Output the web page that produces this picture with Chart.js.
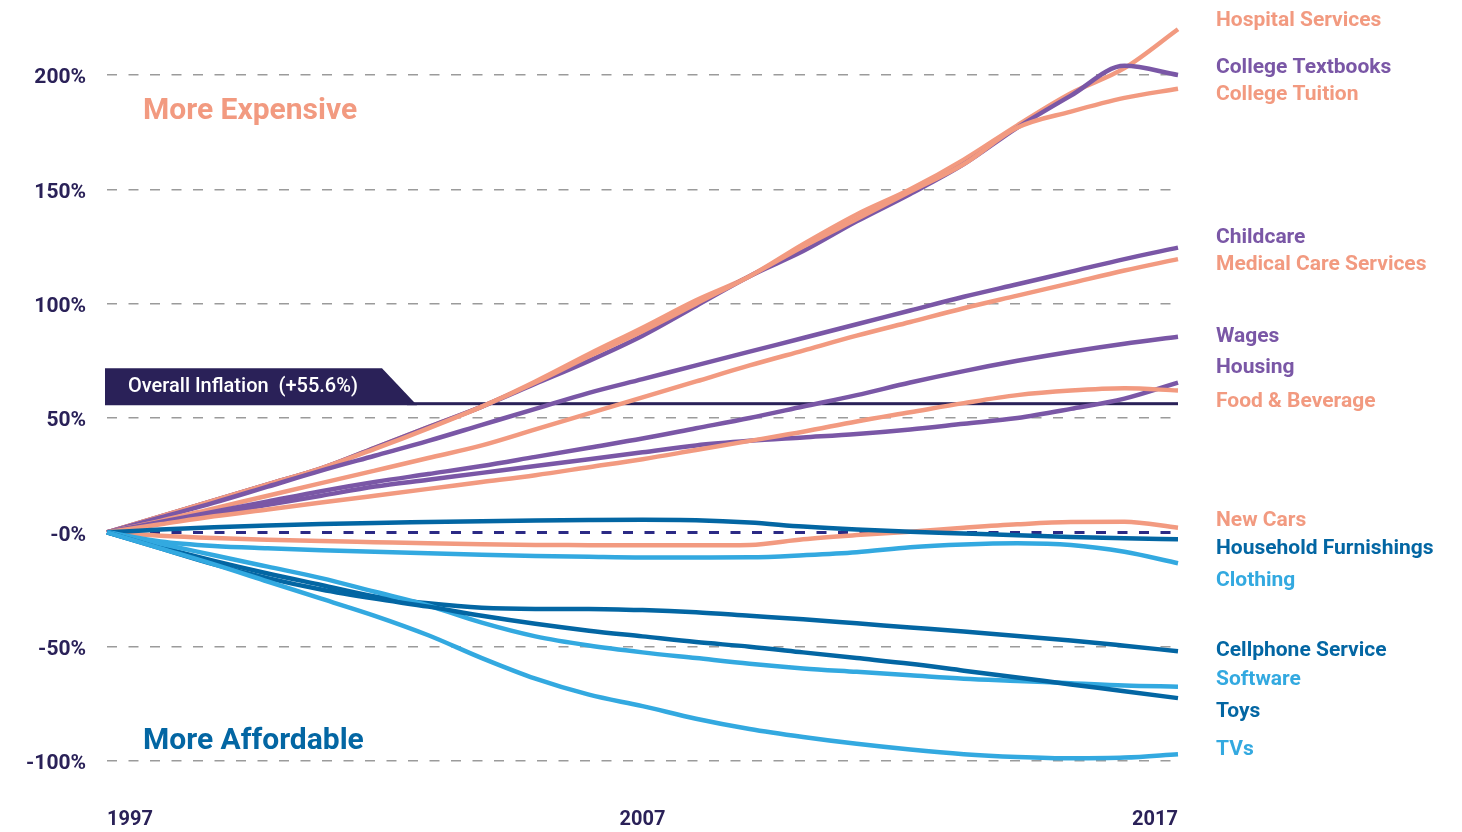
<!DOCTYPE html>
<html>
<head>
<meta charset="utf-8">
<title>Price changes 1997-2017</title>
<script src="https://cdn.jsdelivr.net/npm/chart.js@4.4.0/dist/chart.umd.min.js"></script>
<style>
  html, body { margin: 0; padding: 0; background: #fff; }
  #wrap { width: 1462px; height: 832px; position: relative; }
</style>
</head>
<body>
<div id="wrap"><canvas id="chart"></canvas></div>
<script>
"use strict"

const years = ["1997", "1998", "1999", "2000", "2001", "2002", "2003", "2004", "2005", "2006", "2007",
  "2008", "2009", "2010", "2011", "2012", "2013", "2014", "2015", "2016", "2017"]
const shownYears = ["1997", "2007", "2017"]
const overallInflation = 55.6

// percent change since 1997
const hospitalServices = [0, 7, 14, 21, 28, 37, 46, 55, 66, 78, 89.5, 101.5, 112, 126, 139, 150, 163, 178, 192, 203, 220]
const collegeTextbooks = [0, 7, 14, 21, 28, 37, 46, 55, 65, 75, 86, 99, 112, 123, 136, 148, 161, 177, 191, 204, 200]
const collegeTuition = [0, 7, 14, 21, 28, 36.5, 45.5, 55, 65.5, 77, 88, 100, 112, 125, 137, 149, 161, 177, 184, 190, 194]
const childcare = [0, 6.5, 13, 20, 27, 33.5, 40, 47, 54, 61, 67, 73, 79, 85, 91, 97, 103, 108.5, 114, 119.5, 124.5]
const medicalCare = [0, 5, 10.5, 16, 21.5, 27, 32.5, 38, 45, 52, 59, 66, 73, 79.5, 86, 92, 98, 103.5, 109, 114.5, 119.5]
const wages = [0, 4.5, 9, 13.5, 18, 22, 25.5, 29, 33, 37, 41, 45.5, 50, 55, 60, 65.5, 70.5, 75, 79, 82.5, 85.5]
const housing = [0, 4, 8, 12, 16, 20, 23, 26, 29, 32, 35, 38, 40, 41.5, 43, 45, 47.5, 50, 54, 58.5, 65.5]
const foodBeverage = [0, 3.5, 7, 10, 13, 16, 19, 22, 25, 28.5, 32, 36, 40, 44, 48.5, 52.5, 56.5, 60, 62, 63, 62]
const newCars = [0, -1.5, -2.5, -3.2, -3.8, -4.3, -4.8, -5.2, -5.5, -5.6, -5.7, -5.7, -5.5, -3, -1.2, 0.3, 2, 3.5, 4.5, 4.6, 2]
const householdFurnishings = [0, 1.2, 2.2, 3, 3.6, 4.1, 4.5, 4.9, 5.2, 5.4, 5.5, 5.3, 4.3, 2.5, 1.2, 0.3, -0.5, -1.3, -2, -2.6, -3]
const clothing = [0, -4, -6, -7, -7.8, -8.5, -9.2, -9.8, -10.3, -10.7, -11, -11, -10.9, -10, -8.7, -6.5, -5.3, -4.8, -5.5, -8.5, -13.5]
const cellphoneService = [0, -6.5, -12.5, -18, -23, -28, -31, -33, -33.5, -33.5, -34, -35, -36.5, -38, -39.8, -41.6, -43.4, -45.3, -47.3, -49.6, -52]
const software = [0, -5, -10, -15, -20, -26, -32, -39.5, -45.5, -49.5, -52.5, -55, -57.5, -59.5, -61, -62.5, -64, -65, -66, -67, -67.5]
const toys = [0, -7, -14, -20, -25, -29, -32.5, -36.5, -40, -43, -45.5, -48, -50, -52.5, -55, -57.5, -60.5, -63.5, -66.5, -69.5, -72.5]
const tvs = [0, -7, -14, -21.5, -29, -36.5, -45, -55, -64, -71, -76, -81.5, -86, -89.5, -92.5, -95, -97, -98.2, -98.8, -98.5, -97]

const salmon = "#F29A80"
const purple = "#7A57A6"
const darkBlue = "#0366A3"
const lightBlue = "#33A9E0"
const navy = "#2A2158"
const font = "Roboto, 'Noto Sans', sans-serif"

// name, values, colour, label nudge in px
const series = [
  ["TVs", tvs, lightBlue, -4],
  ["Toys", toys, darkBlue, 14],
  ["Software", software, lightBlue, -7],
  ["Cellphone Service", cellphoneService, darkBlue, 0],
  ["Clothing", clothing, lightBlue, 18],
  ["Household Furnishings", householdFurnishings, darkBlue, 10],
  ["New Cars", newCars, salmon, -7],
  ["Food & Beverage", foodBeverage, salmon, 11],
  ["Housing", housing, purple, -15],
  ["Wages", wages, purple, 0],
  ["Medical Care Services", medicalCare, salmon, 6],
  ["Childcare", childcare, purple, -10],
  ["College Tuition", collegeTuition, salmon, 6],
  ["College Textbooks", collegeTextbooks, purple, -7],
  ["Hospital Services", hospitalServices, salmon, -9],
]

const datasets = series.map(s => ({
  label: s[0],
  data: s[1],
  borderColor: s[2],
  nudge: s[3],
  borderWidth: 4.5,
  pointRadius: 0,
  cubicInterpolationMode: "monotone",
  clip: false,
}))

// dark tag + horizontal rule for overall inflation
const inflationMarker = {
  id: "inflationMarker",
  beforeDatasetsDraw(chart) {
    const ctx = chart.ctx
    const area = chart.chartArea
    const yPix = chart.scales.y.getPixelForValue(overallInflation)
    ctx.save()
    ctx.fillStyle = navy
    ctx.beginPath()
    ctx.moveTo(area.left - 2, yPix - 37)
    ctx.lineTo(area.left + 275, yPix - 37)
    ctx.lineTo(area.left + 310, yPix)
    ctx.lineTo(area.left - 2, yPix)
    ctx.closePath()
    ctx.fill()
    ctx.fillRect(area.left + 300, yPix - 3, area.right - area.left - 300, 3)
    ctx.fillStyle = "#fff"
    ctx.font = "500 20px " + font
    ctx.textBaseline = "middle"
    ctx.fillText(`Overall Inflation  (+${overallInflation}%)`, area.left + 21, yPix - 18)
    ctx.restore()
  }
}

const textLabels = {
  id: "textLabels",
  afterDatasetsDraw(chart) {
    const ctx = chart.ctx
    const area = chart.chartArea
    const y = chart.scales.y
    ctx.save()
    ctx.textBaseline = "middle"
    ctx.font = "700 30px " + font
    ctx.fillStyle = salmon
    ctx.fillText("More Expensive", area.left + 36, y.getPixelForValue(184))
    ctx.fillStyle = darkBlue
    ctx.fillText("More Affordable", area.left + 36, y.getPixelForValue(-91.5))

    ctx.font = "700 21px " + font
    chart.data.datasets.forEach(ds => {
      const last = ds.data[ds.data.length - 1]
      ctx.fillStyle = ds.borderColor
      ctx.fillText(ds.label, area.right + 38, y.getPixelForValue(last) + ds.nudge)
    })
    ctx.restore()
  }
}

const canvas = document.getElementById("chart")
const priceChart = new Chart(canvas, {
  type: "line",
  data: { labels: years, datasets: datasets },
  options: {
    responsive: true,
    maintainAspectRatio: false,
    animation: false,
    layout: { padding: { top: 75, right: 284, bottom: 0, left: 0 } },
    plugins: { legend: { display: false }, tooltip: { enabled: false } },
    scales: {
      x: {
        grid: { display: false, drawTicks: false },
        border: { display: false },
        afterFit(scale) { scale.height = 71 },
        ticks: {
          autoSkip: false,
          maxRotation: 0,
          align: "inner",
          padding: 47,
          color: navy,
          font: { family: font, size: 20, weight: "700" },
          callback(value, i) {
            return shownYears.includes(years[i]) ? years[i] : ""
          }
        }
      },
      y: {
        min: -100,
        max: 200,
        afterFit(scale) { scale.width = 107 },
        border: { display: false, dash: [10, 11.5] },
        grid: {
          drawTicks: false,
          color: c => c.tick && c.tick.value === 0 ? "#2B2A85" : "#9B9B9B",
          lineWidth: c => c.tick && c.tick.value === 0 ? 3 : 1.5,
        },
        ticks: {
          stepSize: 50,
          padding: 21,
          labelOffset: 3,
          color: navy,
          font: { family: font, size: 21, weight: "700" },
          callback: v => (v === 0 ? "-0" : v) + "%"
        }
      }
    }
  },
  plugins: [inflationMarker, textLabels]
})
</script>
</body>
</html>
